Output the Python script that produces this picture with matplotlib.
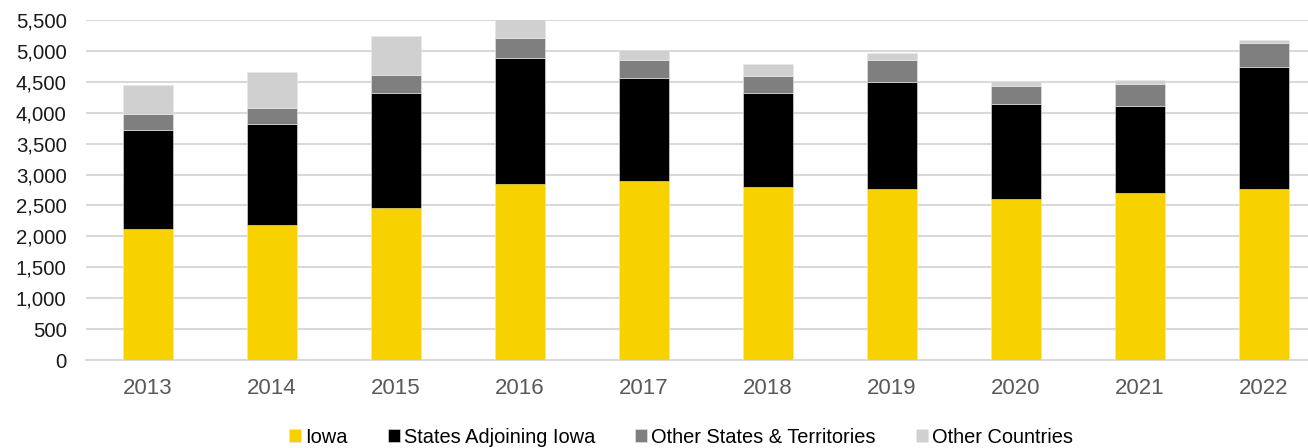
import matplotlib
matplotlib.use("Agg")
import matplotlib.pyplot as plt
from matplotlib.ticker import FuncFormatter, MultipleLocator
import numpy as np

years = ["2013", "2014", "2015", "2016", "2017", "2018", "2019", "2020", "2021", "2022"]
iowa = [2124, 2189, 2453, 2842, 2896, 2793, 2766, 2599, 2707, 2771]
adjoining = [1602, 1634, 1861, 2049, 1671, 1531, 1736, 1547, 1407, 1974]
other_states = [248, 259, 296, 318, 280, 275, 351, 292, 356, 377]
other_countries = [474, 577, 626, 320, 162, 194, 118, 70, 54, 54]

series = [
    ("Iowa", iowa, "#F7D100"),
    ("States Adjoining Iowa", adjoining, "#000000"),
    ("Other States & Territories", other_states, "#7F7F7F"),
    ("Other Countries", other_countries, "#D0D0D0"),
]

plt.rcParams['font.family'] = ['Liberation Sans', 'DejaVu Sans']

fig = plt.figure(figsize=(13.08, 4.48), dpi=100)
ax = fig.add_axes([86/1308, 88/448, (1326-86)/1308, 340/448])

x = np.arange(len(years))
bottom = np.zeros(len(years))
handles = []
for name, vals, col in series:
    h = ax.bar(x, vals, width=0.40, bottom=bottom, color=col, label=name,
               edgecolor="#E8E8E8", linewidth=0.4, zorder=3)
    handles.append(h)
    bottom += np.array(vals)

ax.set_xlim(-0.5, len(years) - 0.5)
ax.set_ylim(0, 5500)
ax.yaxis.set_major_locator(MultipleLocator(500))
ax.yaxis.set_major_formatter(FuncFormatter(lambda v, p: f"{int(v):,}"))
ax.set_xticks(x)
ax.set_xticklabels(years)
ax.grid(axis="y", color="#D9D9D9", linewidth=1.5, zorder=0)
ax.set_axisbelow(True)
for s in ["top", "right", "left"]:
    ax.spines[s].set_visible(False)
ax.spines["bottom"].set_color("#D9D9D9")
ax.spines["bottom"].set_linewidth(1.5)
ax.tick_params(axis="both", length=0)
ax.tick_params(axis="y", pad=14, labelsize=14.7, labelcolor="#1A1A1A")
ax.tick_params(axis="x", pad=13, labelsize=16, labelcolor="#595959")

leg = fig.legend(handles=handles, loc="center", bbox_to_anchor=(681/1308, 11/448),
                 ncol=4, frameon=False, fontsize=14.4, handlelength=0.6, handleheight=0.6,
                 handletextpad=0.2, columnspacing=2.0, labelcolor="#000000")

fig.savefig("out.png", dpi=100)
